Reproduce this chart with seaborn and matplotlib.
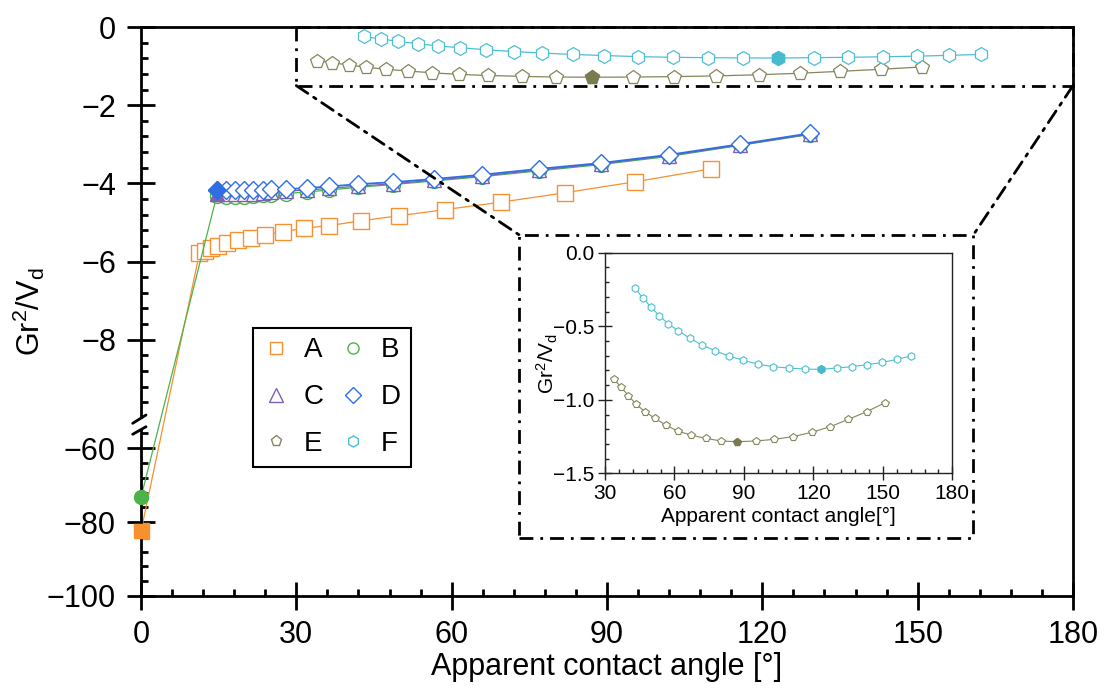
import numpy as np
import seaborn as sns
import matplotlib.pyplot as plt
from matplotlib.lines import Line2D
from matplotlib.patches import Rectangle, ConnectionPatch
from matplotlib.ticker import FixedLocator, MultipleLocator

# values
a_x = [0, 11.3, 12.4, 13.5, 14.9, 16.7, 18.8, 21.2, 24.0, 27.4, 31.4, 36.4,
       42.4, 49.8, 58.8, 69.6, 81.9, 95.4, 110.1]
a_y = [-82.5, -5.78, -5.72, -5.65, -5.59, -5.52, -5.46, -5.41, -5.31, -5.24,
       -5.15, -5.08, -4.96, -4.83, -4.67, -4.48, -4.24, -3.96, -3.63]

bcd_x = [14.6, 16.4, 18.2, 19.9, 21.7, 23.6, 25.2, 28.1, 32.0, 36.4, 42.0,
         48.7, 56.5, 65.8, 76.9, 88.8, 102.0, 115.6, 129.2]
b_x = [0] + bcd_x
b_y = [-73.3, -4.33, -4.34, -4.34, -4.34, -4.33, -4.31, -4.29, -4.26, -4.22,
       -4.17, -4.10, -4.03, -3.94, -3.83, -3.68, -3.52, -3.31, -3.03, -2.75]
c_y = [-4.26, -4.27, -4.27, -4.27, -4.26, -4.24, -4.22, -4.20, -4.17, -4.13,
       -4.07, -4.01, -3.92, -3.81, -3.66, -3.50, -3.29, -3.02, -2.74]
d_y = [-4.18, -4.18, -4.18, -4.18, -4.18, -4.16, -4.15, -4.15, -4.12, -4.08,
       -4.02, -3.97, -3.89, -3.78, -3.63, -3.48, -3.27, -3.00, -2.72]

e_x = [33.9, 36.8, 40.1, 43.4, 47.3, 51.6, 56.3, 61.4, 67.1, 73.5, 80.1, 87.2,
       95.1, 103.0, 111.0, 119.3, 127.2, 135.1, 143.0, 150.9]
e_y = [-0.861, -0.911, -0.972, -1.029, -1.081, -1.126, -1.172, -1.212, -1.240,
       -1.262, -1.280, -1.285, -1.280, -1.269, -1.251, -1.221, -1.183, -1.133,
       -1.081, -1.020]
f_x = [43.0, 46.3, 49.7, 53.5, 57.4, 61.7, 66.7, 72.0, 77.5, 83.4, 89.5, 95.9,
       102.7, 109.6, 116.2, 123.1, 130.0, 136.5, 143.3, 149.8, 156.0, 162.2]
f_y = [-0.242, -0.306, -0.367, -0.428, -0.485, -0.530, -0.582, -0.628, -0.666,
       -0.702, -0.730, -0.757, -0.775, -0.784, -0.791, -0.793, -0.784, -0.775,
       -0.761, -0.746, -0.725, -0.702]
e_min, f_min = 11, 15

labels = ["A", "B", "C", "D", "E", "F"]
colors = {"A": "#F7902F", "B": "#4CB34C", "C": "#8060B0",
          "D": "#2E6FE3", "E": "#86865C", "F": "#4DBFD2"}
markers = {"A": "s", "B": "o", "C": "^", "D": "D", "E": "p", "F": "h"}

sns.set_style("ticks")
plt.rcParams['font.family'] = ['Liberation Sans', 'DejaVu Sans']
plt.rcParams['mathtext.default'] = 'regular'
for k in ['text.color', 'axes.labelcolor', 'xtick.color', 'ytick.color',
          'axes.edgecolor']:
    plt.rcParams[k] = 'black'

# broken y axis: 0..-10.2 at full scale, -54..-100 squeezed below it
Y_UP, Y_LO, GAP, R = -10.2, -54.0, 0.01, 3.7 / 39.15


def fwd(y):
    y = np.asarray(y, dtype=float)
    mid = Y_UP - GAP + (y - Y_LO) / (Y_UP - Y_LO) * GAP
    low = Y_UP - GAP + (y - Y_LO) * R
    return np.where(y >= Y_UP, y, np.where(y >= Y_LO, mid, low))


def inv(t):
    t = np.asarray(t, dtype=float)
    t_lo = Y_UP - GAP
    mid = Y_LO + (t - t_lo) / GAP * (Y_UP - Y_LO)
    low = Y_LO + (t - t_lo) / R
    return np.where(t >= Y_UP, t, np.where(t >= t_lo, mid, low))


fig = plt.figure(figsize=(11.04, 6.91), dpi=100)
ax = fig.add_axes([0.1277, 0.1375, 0.8442, 0.8234])
ax.set_yscale('function', functions=(fwd, inv))


def draw(axis, x, y, key, ms, lw, mew):
    sns.lineplot(x=x, y=y, ax=axis, color=colors[key], sort=False,
                 estimator=None, linewidth=lw, marker=markers[key],
                 markersize=ms, markerfacecolor='white',
                 markeredgecolor=colors[key], markeredgewidth=mew)


draw(ax, a_x, a_y, "A", 11, 0.9, 1.0)
draw(ax, b_x, b_y, "B", 10, 0.9, 1.0)
draw(ax, bcd_x, c_y, "C", 10, 0.9, 1.0)
draw(ax, bcd_x, d_y, "D", 9.5, 1.3, 1.0)
draw(ax, e_x, e_y, "E", 10, 0.9, 0.9)
draw(ax, f_x, f_y, "F", 10, 0.9, 0.9)

# filled markers for the minimum of each curve
ax.plot(a_x[0], a_y[0], 's', color=colors["A"], ms=10, clip_on=False, zorder=5)
ax.plot(b_x[0], b_y[0], 'o', color=colors["B"], ms=10, clip_on=False, zorder=5)
ax.plot(bcd_x[0], c_y[0], '^', color=colors["C"], ms=10, zorder=4)
ax.plot(bcd_x[0], d_y[0], 'D', color=colors["D"], ms=9.5, zorder=5)
ax.plot(e_x[e_min], e_y[e_min], 'p', color="#7B7B52", ms=10, zorder=5)
ax.plot(f_x[f_min], f_y[f_min], 'h', color="#45BBCD", ms=10, zorder=5)

ax.set_xlim(0, 180)
ax.set_ylim(-100, 0)
ax.set_xticks(range(0, 181, 30))
ax.xaxis.set_minor_locator(MultipleLocator(6))
y_major = [0, -2, -4, -6, -8, -60, -80, -100]
ax.set_yticks(y_major, labels=[f"{v}".replace('-', '\u2212') for v in y_major])
y_minor = [v for v in np.round(np.arange(-0.4, -9.7, -0.4), 1) if v % 2 != 0]
y_minor += [v for v in range(-56, -100, -4) if v % 20 != 0]
ax.yaxis.set_minor_locator(FixedLocator(y_minor))
ax.tick_params(which='major', direction='inout', length=20, width=2,
               labelsize=22, color='black', labelcolor='black')
ax.tick_params(axis='x', which='major', pad=7)
ax.tick_params(axis='y', which='major', pad=8)
ax.tick_params(which='minor', direction='in', length=5, width=2)
for s in ax.spines.values():
    s.set_linewidth(2)
    s.set_color('black')
ax.set_xlabel("Apparent contact angle [°]", fontsize=22, labelpad=1.5,
              color='black')
ax.set_ylabel("Gr$^{2}$/V$_{d}$", fontsize=22, labelpad=0, color='black')

# axis break marks
ax.plot([0, 0], [0.296, 0.309], color='white', lw=3, transform=ax.transAxes,
        clip_on=False, zorder=6)
for y0, y1 in [(0.3035, 0.3181), (0.2842, 0.2975)]:
    ax.plot([-0.0089, 0.0054], [y0, y1], color='black', lw=2,
            transform=ax.transAxes, clip_on=False, zorder=7)

# zoom box on the main axes and the inset frame
dash = (0, (5, 2.5, 1, 2.5))
ax.plot([30, 30, 180, 180], [0, -1.5, -1.5, 0], color='black', lw=2,
        linestyle=dash, clip_on=False, zorder=6)
ax.plot([30, 180], [0, 0], color='black', lw=2, linestyle=dash,
        clip_on=False, zorder=6)
box = (0.4704, 0.2210, 0.8816 - 0.4704, 0.6599 - 0.2210)
fig.add_artist(Rectangle(box[:2], box[2], box[3], transform=fig.transFigure,
                         fill=True, facecolor='white', edgecolor='black',
                         lw=2, linestyle=dash, zorder=3))
for xa, xb in [(30, 0.4704), (180, 0.8816)]:
    con = ConnectionPatch(xyA=(xa, -1.5), coordsA=ax.transData,
                          xyB=(xb, 0.6599), coordsB=fig.transFigure,
                          color='black', lw=2, linestyle=dash)
    fig.add_artist(con)

# legend
handles = [Line2D([], [], ls='none', marker=markers[k], ms=10 if k == "C" else 8,
                  mfc='white', mec=colors[k], mew=1) for k in labels]
order = [0, 2, 4, 1, 3, 5]
leg = ax.legend([handles[i] for i in order], [labels[i] for i in order],
                ncol=2, fontsize=20, loc='upper left',
                bbox_to_anchor=(0.2289, 0.5258), bbox_transform=fig.transFigure,
                borderaxespad=0, handlelength=1.0, handletextpad=0.5,
                columnspacing=0.55, labelspacing=0.75, borderpad=0.35,
                fancybox=False, framealpha=1, labelcolor='black')
leg.get_frame().set_linewidth(1.5)
leg.get_frame().set_edgecolor('black')

# inset with E and F
axin = fig.add_axes([0.548, 0.315, 0.3146, 0.3192])
axin.set_zorder(4)
draw(axin, e_x, e_y, "E", 5.5, 0.8, 0.8)
draw(axin, f_x, f_y, "F", 5.5, 0.8, 0.8)
axin.plot(e_x[e_min], e_y[e_min], 'p', color="#7B7B52", ms=5.5, zorder=5)
axin.plot(f_x[f_min], f_y[f_min], 'h', color="#45BBCD", ms=5.5, zorder=5)
axin.set_xlim(30, 180)
axin.set_ylim(-1.5, 0)
axin.set_xticks(range(30, 181, 30))
axin.xaxis.set_minor_locator(MultipleLocator(6))
axin.set_yticks([0, -0.5, -1.0, -1.5],
                labels=["0.0", "\u22120.5", "\u22121.0", "\u22121.5"])
axin.yaxis.set_minor_locator(MultipleLocator(0.1))
axin.tick_params(which='major', direction='inout', length=9.5, width=1,
                 labelsize=15, pad=3, color='#222222', labelcolor='black')
axin.tick_params(which='minor', direction='in', length=3, width=1,
                 color='#222222')
for s in axin.spines.values():
    s.set_linewidth(1)
    s.set_color('#222222')
axin.set_xlabel("Apparent contact angle[°]", fontsize=15, labelpad=3,
                color='black')
axin.set_ylabel("Gr$^{2}$/V$_{d}$", fontsize=15, labelpad=-5, color='black')

fig.savefig("out.png", dpi=100)
